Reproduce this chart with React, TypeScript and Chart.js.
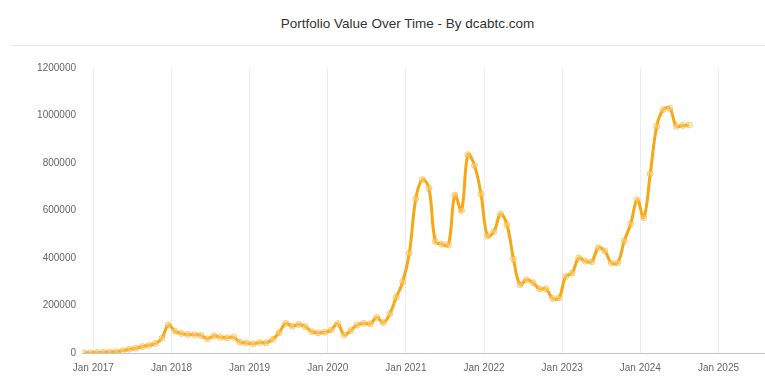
import React, { useEffect, useRef } from "react";
import { Chart, registerables } from "chart.js";

Chart.register(...registerables);

const TITLE = "Portfolio Value Over Time - By dcabtc.com";

// Monthly portfolio values (sampled on the 17th of each month)
const values2016 = [500, 1000]; // Nov, Dec
const values2017 = [2000, 3000, 4500, 5500, 10000, 16000, 20000, 27000, 32000, 40000, 62000, 118000];
const values2018 = [92000, 82000, 78000, 77000, 74000, 60000, 72000, 66000, 64000, 66000, 46000, 42000];
const values2019 = [39000, 44000, 43000, 57000, 85000, 125000, 113000, 120000, 112000, 90000, 85000, 87000];
const values2020 = [97000, 124000, 76000, 95000, 118000, 125000, 123000, 150000, 128000, 165000, 235000, 300000];
const values2021 = [420000, 650000, 730000, 695000, 470000, 458000, 455000, 665000, 600000, 835000, 790000, 670000];
const values2022 = [492000, 512000, 585000, 540000, 395000, 288000, 308000, 296000, 270000, 270000, 230000, 232000];
const values2023 = [322000, 336000, 400000, 387000, 384000, 442000, 430000, 380000, 380000, 472000, 543000, 645000];
const values2024 = [570000, 755000, 955000, 1025000, 1030000, 955000, 958000, 960000]; // Jan..Aug

const yearSeries: { year: number; firstMonth: number; values: number[] }[] = [
  { year: 2016, firstMonth: 11, values: values2016 },
  { year: 2017, firstMonth: 1, values: values2017 },
  { year: 2018, firstMonth: 1, values: values2018 },
  { year: 2019, firstMonth: 1, values: values2019 },
  { year: 2020, firstMonth: 1, values: values2020 },
  { year: 2021, firstMonth: 1, values: values2021 },
  { year: 2022, firstMonth: 1, values: values2022 },
  { year: 2023, firstMonth: 1, values: values2023 },
  { year: 2024, firstMonth: 1, values: values2024 },
];

const sampleDay = 17;
const xTickYears = [2017, 2018, 2019, 2020, 2021, 2022, 2023, 2024, 2025];
const yTicks = [0, 200000, 400000, 600000, 800000, 1000000, 1200000];
const xMin = 2016.855;
const xMax = 2025.634;

const LINE = "#f6a714";

export default function App() {
  const ref = useRef<HTMLCanvasElement | null>(null);

  useEffect(() => {
    if (!ref.current) return;
    const points: { x: number; y: number }[] = [];
    yearSeries.forEach((s) => {
      s.values.forEach((v, i) => {
        const m = s.firstMonth - 1 + i;
        points.push({ x: s.year + m / 12 + (sampleDay - 1) / 365, y: v });
      });
    });

    const chart = new Chart(ref.current, {
      type: "line",
      data: {
        datasets: [
          {
            data: points,
            borderColor: LINE,
            borderWidth: 3,
            tension: 0.4,
            pointRadius: 3,
            pointBorderWidth: 1,
            pointBorderColor: "rgba(246,167,20,0.55)",
            pointBackgroundColor: "rgba(255,215,140,0.45)",
            fill: false,
          },
        ],
      },
      options: {
        animation: false,
        responsive: false,
        maintainAspectRatio: false,
        layout: { padding: { top: 18, right: 0, bottom: 0, left: 0 } },
        plugins: {
          legend: { display: false },
          title: { display: false },
          tooltip: { enabled: false },
        },
        scales: {
          x: {
            type: "linear",
            min: xMin,
            max: xMax,
            afterBuildTicks: (scale: any) => {
              scale.ticks = xTickYears.map((v) => ({ value: v }));
            },
            afterFit: (scale: any) => {
              scale.height = 36;
            },
            ticks: {
              autoSkip: false,
              maxRotation: 0,
              padding: 9,
              color: "#666",
              font: { family: "'Liberation Sans', Arial, sans-serif", size: 10 },
              callback: (v: any) => "Jan " + v,
            },
            grid: {
              display: true,
              drawTicks: false,
              color: "#ececec",
              lineWidth: 1,
            },
            border: { display: true, color: "#c4c4c4", width: 1 },
          },
          y: {
            type: "linear",
            min: 0,
            max: 1200000,
            afterBuildTicks: (scale: any) => {
              scale.ticks = yTicks.map((v) => ({ value: v }));
            },
            afterFit: (scale: any) => {
              scale.width = 64;
            },
            ticks: {
              padding: 6,
              color: "#666",
              font: { family: "'Liberation Sans', Arial, sans-serif", size: 10 },
              callback: (v: any) => String(v),
            },
            grid: { display: false, drawTicks: false },
            border: { display: false },
          },
        },
      },
    });
    return () => chart.destroy();
  }, []);

  return (
    <div style={{ position: "absolute", left: 0, top: 0, width: 765, height: 388, background: "#fff", overflow: "hidden" }}>
      <div
        style={{
          position: "absolute",
          left: 0,
          width: 815,
          top: 16,
          textAlign: "center",
          fontFamily: "'Liberation Sans', Arial, sans-serif",
          fontSize: 13.5,
          lineHeight: "16px",
          color: "#333",
        }}
      >
        {TITLE}
      </div>
      <div style={{ position: "absolute", left: 12, top: 45, width: 753, height: 1, background: "#e6e6e6" }} />
      <canvas
        ref={ref}
        width={755}
        height={339}
        style={{ position: "absolute", left: 18, top: 50, width: 755, height: 339 }}
      />
    </div>
  );
}
